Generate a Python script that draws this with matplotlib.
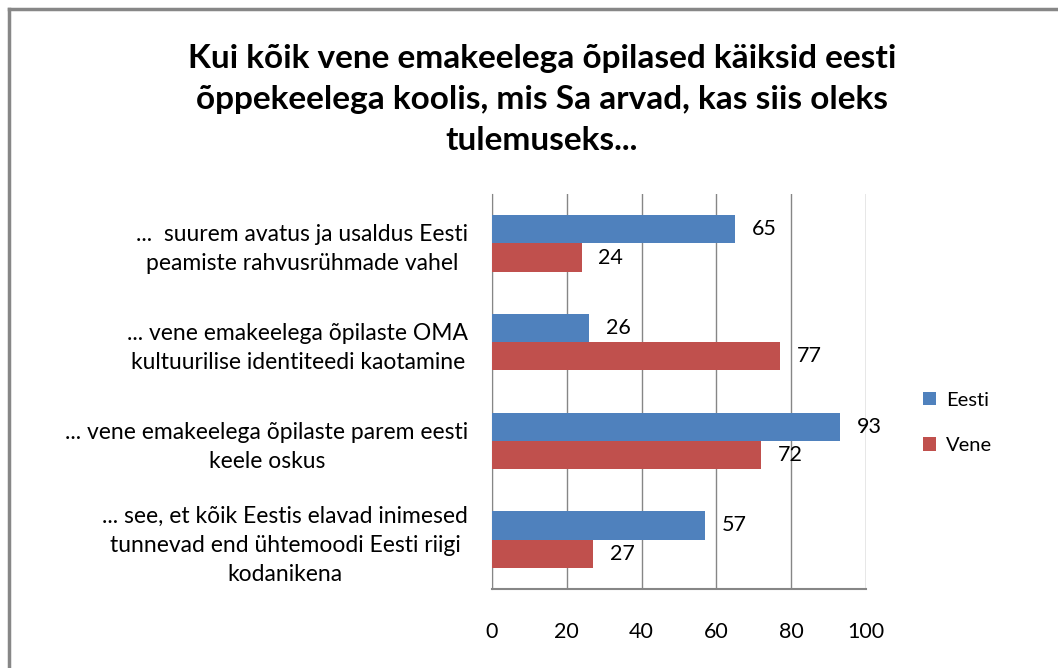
import matplotlib.pyplot as plt
import numpy as np
from matplotlib.lines import Line2D

plt.rcParams['font.family'] = ['Lato', 'DejaVu Sans']

# Andmed
kategooriad = [
    '...  suurem avatus ja usaldus Eesti\npeamiste rahvusrühmade vahel',
    '... vene emakeelega õpilaste OMA\nkultuurilise identiteedi kaotamine',
    '... vene emakeelega õpilaste parem eesti\nkeele oskus',
    '... see, et kõik Eestis elavad inimesed\ntunnevad end ühtemoodi Eesti riigi\nkodanikena',
]
eesti = [65, 26, 93, 57]
vene = [24, 77, 72, 27]
x_ticks = [0, 20, 40, 60, 80, 100]

sinine = '#4F81BD'
punane = '#C0504D'

fig = plt.figure(figsize=(10.58, 6.68), dpi=100)
ax = fig.add_axes([0.465, 0.1183, 0.3535, 0.5913])

y = np.arange(len(kategooriad))
h = 0.287
b1 = ax.barh(y - h / 2, eesti, height=h, color=sinine, label='Eesti', zorder=3)
b2 = ax.barh(y + h / 2, vene, height=h, color=punane, label='Vene', zorder=3)

ax.bar_label(b1, padding=12, fontsize=15.5, color='black')
ax.bar_label(b2, padding=12, fontsize=15.5, color='black')

ax.set_xlim(0, 100)
ax.set_ylim(3.5, -0.5)
ax.set_xticks(x_ticks)
ax.set_yticks(y)
ax.set_yticklabels(kategooriad, fontsize=16.5, linespacing=1.45)
for t in ax.get_yticklabels():
    t.set_multialignment('center')
ax.tick_params(axis='y', length=0, pad=17)
ax.tick_params(axis='x', length=0, pad=24, labelsize=15.5)

ax.grid(axis='x', color='#868686', linewidth=1, zorder=0)
for s in ['top', 'right']:
    ax.spines[s].set_visible(False)
ax.spines['left'].set_color('#868686')
ax.spines['bottom'].set_color('#868686')
ax.spines['bottom'].set_linewidth(1.5)

fig.text(0.512, 0.851,
         'Kui kõik vene emakeelega õpilased käiksid eesti\n'
         'õppekeelega koolis, mis Sa arvad, kas siis oleks\n'
         'tulemuseks...',
         ha='center', va='center', fontsize=24, fontweight='bold',
         linespacing=1.5)

fig.legend(handles=[b1, b2], labels=['Eesti', 'Vene'], loc='center left',
           bbox_to_anchor=(0.855, 0.367), frameon=False, fontsize=14.5,
           handlelength=0.65, handleheight=0.65, handletextpad=0.5,
           labelspacing=1.4)

# raam
fig.add_artist(Line2D([9 / 1058, 1.0], [1 - 9 / 668, 1 - 9 / 668],
                      color='#878787', linewidth=2.5, transform=fig.transFigure))
fig.add_artist(Line2D([9 / 1058, 9 / 1058], [1 - 9 / 668, 0],
                      color='#878787', linewidth=2.5, transform=fig.transFigure))

fig.savefig('out.png', dpi=100)
